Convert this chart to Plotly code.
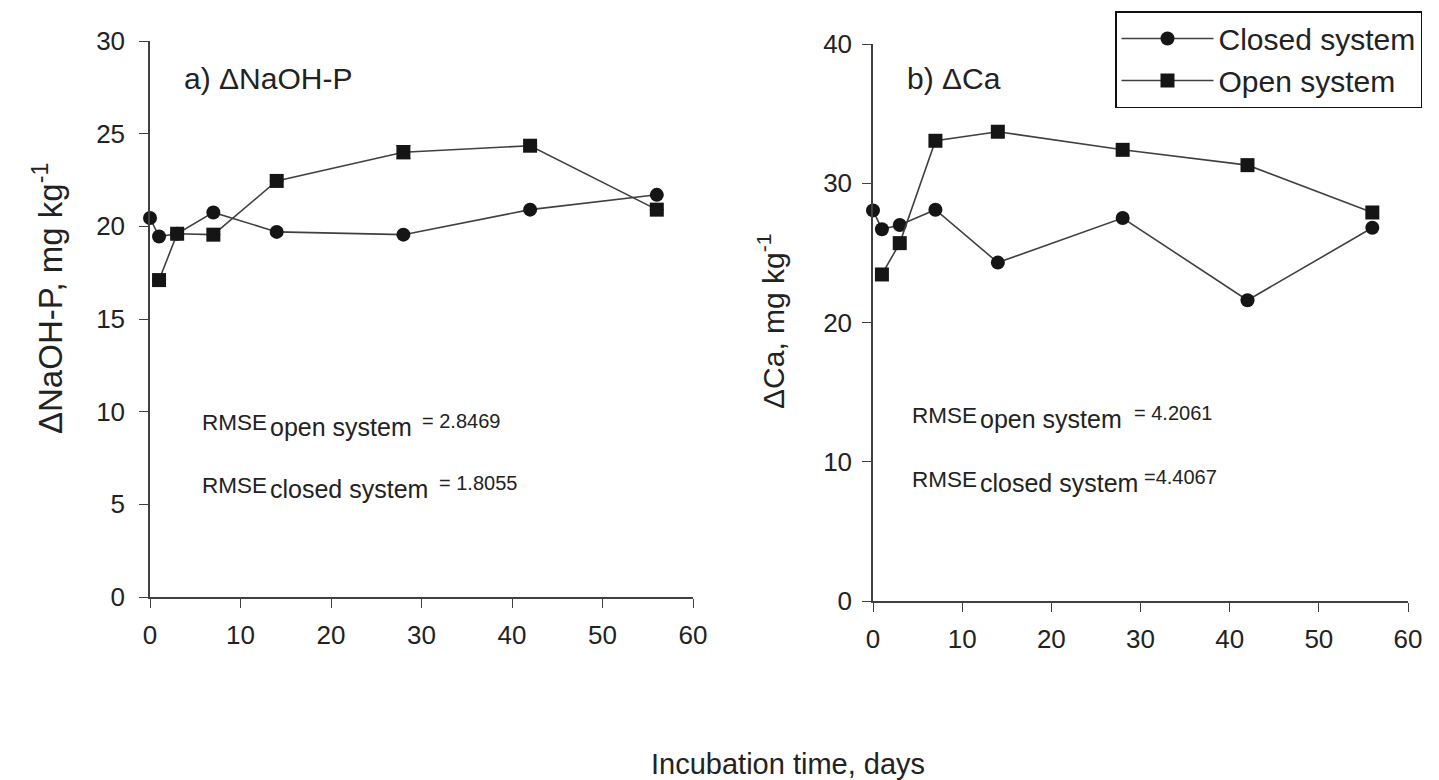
import plotly.graph_objects as go

# Incubation days
days_closed = [0, 1, 3, 7, 14, 28, 42, 56]
days_open = [1, 3, 7, 14, 28, 42, 56]

# a) ΔNaOH-P, mg kg-1
naoh_closed = [20.45, 19.45, 19.6, 20.75, 19.7, 19.55, 20.9, 21.7]
naoh_open = [17.1, 19.6, 19.55, 22.45, 24.0, 24.35, 20.9]
naoh_open_err = [0, 0, 0, 0, 0.35, 0, 0]

# b) ΔCa, mg kg-1
ca_closed = [28.05, 26.7, 27.0, 28.1, 24.3, 27.5, 21.6, 26.8]
ca_open = [23.45, 25.7, 33.05, 33.7, 32.4, 31.3, 27.9]

x_ticks = [0, 10, 20, 30, 40, 50, 60]
y_ticks_a = [0, 5, 10, 15, 20, 25, 30]
y_ticks_b = [0, 10, 20, 30, 40]

W, H = 1439, 780
FONT = "Liberation Sans, Arial, sans-serif"
TXT = "#222222"
LINE = "#404040"
MARK = "#151515"


def px(x):
    return x / W


def py(y):
    return 1 - y / H


fig = go.Figure()

circle = dict(symbol="circle", size=14, color=MARK)
square = dict(symbol="square", size=14, color=MARK)
line = dict(color=LINE, width=1.6)

fig.add_trace(go.Scatter(x=days_closed, y=naoh_closed, mode="lines+markers",
                         marker=circle, line=line, name="Closed system",
                         xaxis="x", yaxis="y", cliponaxis=False))
fig.add_trace(go.Scatter(x=days_open, y=naoh_open, mode="lines+markers",
                         marker=square, line=line, name="Open system",
                         error_y=dict(type="data", array=naoh_open_err, color=MARK,
                                      thickness=1.2, width=7),
                         xaxis="x", yaxis="y", cliponaxis=False))
fig.add_trace(go.Scatter(x=days_closed, y=ca_closed, mode="lines+markers",
                         marker=circle, line=line, name="Closed system",
                         showlegend=False, xaxis="x2", yaxis="y2", cliponaxis=False))
fig.add_trace(go.Scatter(x=days_open, y=ca_open, mode="lines+markers",
                         marker=square, line=line, name="Open system",
                         showlegend=False, xaxis="x2", yaxis="y2", cliponaxis=False))

axis_common = dict(showgrid=False, zeroline=False, showline=True, linecolor=LINE,
                   linewidth=1.5, ticks="outside", ticklen=9, tickwidth=1.3,
                   tickcolor=LINE, automargin=False,
                   tickfont=dict(family=FONT, size=26, color=TXT))

fig.update_layout(
    width=W, height=H,
    margin=dict(l=0, r=0, t=0, b=0, autoexpand=False),
    paper_bgcolor="white", plot_bgcolor="white",
    font=dict(family=FONT, color=TXT),
    xaxis=dict(domain=[px(150), px(693)], range=[0, 60], tickvals=x_ticks,
               anchor="y", ticklabelstandoff=5, **axis_common),
    yaxis=dict(domain=[py(597), py(41)], range=[0, 30], tickvals=y_ticks_a,
               anchor="x", ticklabelstandoff=9, **axis_common),
    xaxis2=dict(domain=[px(873), px(1408)], range=[0, 60], tickvals=x_ticks,
                anchor="y2", ticklabelstandoff=5, **axis_common),
    yaxis2=dict(domain=[py(601), py(44)], range=[0, 40], tickvals=y_ticks_b,
                anchor="x2", ticklabelstandoff=5, **axis_common),
    legend=dict(x=px(1115), y=py(11), xanchor="left", yanchor="top",
                bordercolor="#111111", borderwidth=1.5, bgcolor="white",
                font=dict(family=FONT, size=30, color=TXT),
                itemwidth=92, tracegroupgap=0),
)


def label(text, x, y, size, xanchor="left", angle=0):
    fig.add_annotation(text=text, x=px(x), y=py(y), xref="paper", yref="paper",
                       xanchor=xanchor, yanchor="middle", showarrow=False,
                       textangle=angle,
                       font=dict(family=FONT, size=size, color=TXT))


# panel titles
label("a) ΔNaOH-P", 182, 79, 30)
label("b) ΔCa", 905, 79, 30)

# RMSE statements: main text, lowered subscript, value
label("RMSE", 200, 423, 22.5)
label("open system", 268, 427, 25)
label("= 2.8469", 420, 421, 20)
label("RMSE", 200, 485, 22.5)
label("closed system", 268, 489, 25)
label("= 1.8055", 437, 483, 20)

label("RMSE", 910, 415, 22.5)
label("open system", 978, 419, 25)
label("= 4.2061", 1132, 413, 20)
label("RMSE", 910, 479, 22.5)
label("closed system", 978, 483, 25)
label("=4.4067", 1142, 477, 20)

# axis titles
label("Incubation time, days", 788, 764, 29, xanchor="center")
label("ΔNaOH-P, mg kg<sup>-1</sup>", 48, 299, 33, xanchor="center", angle=-90)
label("ΔCa, mg kg<sup>-1</sup>", 771, 321, 30, xanchor="center", angle=-90)

fig.write_html("out.html")
